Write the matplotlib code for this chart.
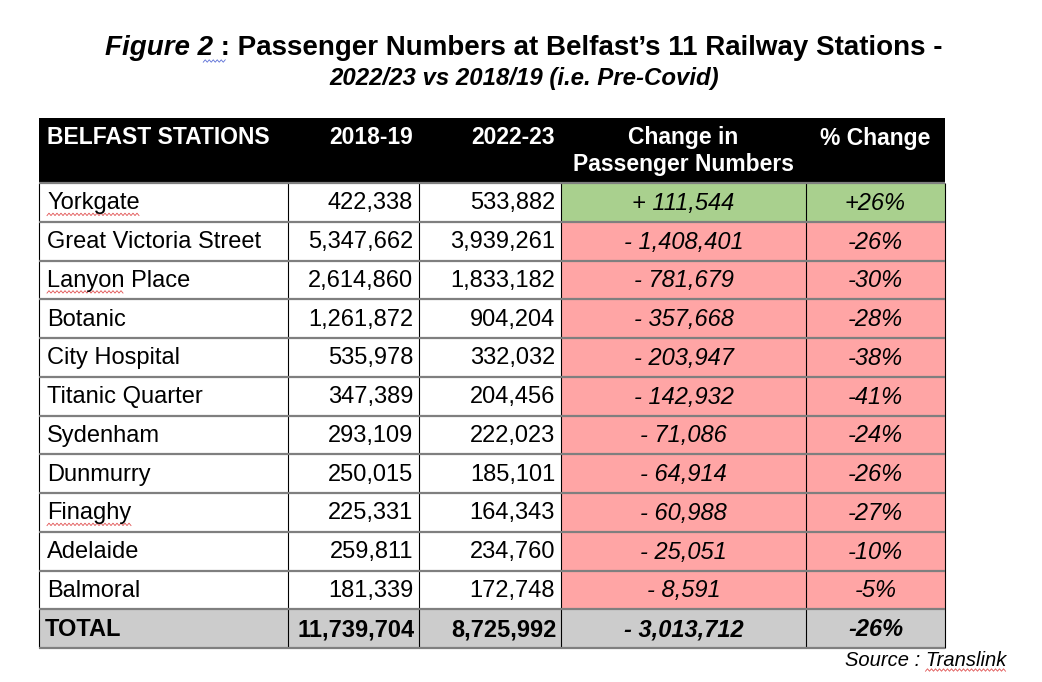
import matplotlib
matplotlib.use("Agg")
import matplotlib.pyplot as plt
import numpy as np
from matplotlib.patches import Rectangle

stations = ["Yorkgate", "Great Victoria Street", "Lanyon Place", "Botanic",
            "City Hospital", "Titanic Quarter", "Sydenham", "Dunmurry",
            "Finaghy", "Adelaide", "Balmoral"]
pax_1819 = [422338, 5347662, 2614860, 1261872, 535978, 347389,
            293109, 250015, 225331, 259811, 181339]
pax_2223 = [533882, 3939261, 1833182, 904204, 332032, 204456,
            222023, 185101, 164343, 234760, 172748]
change = [111544, -1408401, -781679, -357668, -203947, -142932,
          -71086, -64914, -60988, -25051, -8591]
pct_change = [26, -26, -30, -28, -38, -41, -24, -26, -27, -10, -5]
total_row = ["TOTAL", 11739704, 8725992, -3013712, -26]
headers = ["BELFAST STATIONS", "2018-19", "2022-23",
           "Change in\nPassenger Numbers", "% Change"]
# words flagged by the spell checker in the source screenshot
flagged = ["Yorkgate", "Lanyon", "Finaghy"]

FONT = ["Liberation Sans", "DejaVu Sans"]

# layout (pixels)
col_edges = [39, 288, 419, 561, 806, 945]
head_top, head_bot = 118, 183
row_h = 38.75
GREEN, RED, GREY = "#a9d08e", "#ffa5a5", "#cccccc"


def fmt_change(v):
    sign = "+" if v > 0 else "-"
    return f"{sign} {abs(v):,}"


def fmt_pct(v):
    return f"{'+' if v > 0 else '-'}{abs(v)}%"


def squiggle(ax, x0, x1, y, color):
    """wavy spell-check underline"""
    xs = np.arange(x0, x1 + 0.1, 2.0)
    ys = y + np.where(np.arange(len(xs)) % 2 == 0, 1.2, -1.2)
    ax.plot(xs, ys, color=color, lw=0.6)


fig = plt.figure(figsize=(10.42, 6.82), dpi=100)
ax = fig.add_axes([0, 0, 1, 1])
ax.set_xlim(0, 1042)
ax.set_ylim(682, 0)
ax.axis("off")
renderer = fig.canvas.get_renderer()
px = ax.transData.inverted()

# ===== title
t1 = ax.text(0, 48, "Figure 2", fontsize=20, fontweight="bold",
             fontstyle="italic", family=FONT, va="center", ha="left")
t2 = ax.text(0, 48, " : Passenger Numbers at Belfast\u2019s 11 Railway Stations -",
             fontsize=20, fontweight="bold", family=FONT, va="center", ha="left")
w1 = t1.get_window_extent(renderer).width
w2 = t2.get_window_extent(renderer).width
x0 = 524 - (w1 + w2) / 2
t1.set_x(x0)
t2.set_x(x0 + w1)
squiggle(ax, x0 + w1 - 10, x0 + w1 + 12, 61, "#5b6fd6")
ax.text(524, 78, "2022/23 vs 2018/19 (i.e. Pre-Covid)", fontsize=17.3,
        fontweight="bold", fontstyle="italic", family=FONT,
        ha="center", va="center")

# ===== header
left, right = col_edges[0], col_edges[-1]
ax.add_patch(Rectangle((left, head_top), right - left, head_bot - head_top,
                       facecolor="black", edgecolor="none"))
hy = 138
hkw = dict(color="white", fontsize=16.5, fontweight="bold", family=FONT)
ax.text(47, hy, headers[0], va="center", ha="left", **hkw)
ax.text(col_edges[2] - 6, hy, headers[1], va="center", ha="right", **hkw)
ax.text(col_edges[3] - 6, hy, headers[2], va="center", ha="right", **hkw)
ax.text((col_edges[3] + col_edges[4]) / 2, 151, headers[3], va="center",
        ha="center", linespacing=1.2, **hkw)
ax.text((col_edges[4] + col_edges[5]) / 2, hy, headers[4], va="center",
        ha="center", **hkw)

# ===== body rows
n = len(stations)
for i in range(n + 1):
    y_top = head_bot + i * row_h
    yc = y_top + row_h / 2 + 1
    if i < n:
        fill = GREEN if change[i] > 0 else RED
        ax.add_patch(Rectangle((col_edges[3], y_top), col_edges[5] - col_edges[3],
                               row_h, facecolor=fill, edgecolor="none"))
        cells = [stations[i], f"{pax_1819[i]:,}", f"{pax_2223[i]:,}",
                 fmt_change(change[i]), fmt_pct(pct_change[i])]
        kw = dict(fontsize=17, family=FONT, va="center", color="black")
        ax.text(col_edges[0] + 8, yc, cells[0], ha="left", **kw)
        word = stations[i].split()[0]
        if word in flagged:
            wt = ax.text(col_edges[0] + 8, yc, word, ha="left", alpha=0, **kw)
            bb = wt.get_window_extent(renderer).transformed(px)
            squiggle(ax, bb.x0, bb.x1, yc + 11, "#e05050")
        ax.text(col_edges[2] - 6, yc, cells[1], ha="right", **kw)
        ax.text(col_edges[3] - 6, yc, cells[2], ha="right", **kw)
        ax.text((col_edges[3] + col_edges[4]) / 2, yc, cells[3], ha="center",
                fontstyle="italic", **kw)
        ax.text((col_edges[4] + col_edges[5]) / 2, yc, cells[4], ha="center",
                fontstyle="italic", **kw)
    else:
        ax.add_patch(Rectangle((left, y_top), right - left, row_h,
                               facecolor=GREY, edgecolor="none"))
        kw = dict(fontsize=17, family=FONT, va="center", color="black",
                  fontweight="bold")
        ax.text(col_edges[0] + 6, yc, total_row[0], ha="left", **kw)
        ax.text(col_edges[2] - 4, yc, f"{total_row[1]:,}", ha="right", **kw)
        ax.text(col_edges[3] - 4, yc, f"{total_row[2]:,}", ha="right", **kw)
        ax.text((col_edges[3] + col_edges[4]) / 2, yc, fmt_change(total_row[3]),
                ha="center", fontstyle="italic", **kw)
        ax.text((col_edges[4] + col_edges[5]) / 2, yc, fmt_pct(total_row[4]),
                ha="center", fontstyle="italic", **kw)

# ===== grid lines
bottom = head_bot + (n + 1) * row_h
for x in col_edges:
    ax.plot([x, x], [head_bot, bottom], color="black", lw=0.8,
            solid_capstyle="butt")
for i in range(n + 2):
    y = head_bot + i * row_h
    ax.plot([left, right], [y, y], color="#7f7f7f", lw=1.6,
            solid_capstyle="butt")

# ===== source
src = ax.text(1006, 660, "Source : Translink", fontsize=14.5, fontstyle="italic",
              family=FONT, ha="right", va="center")
sw = ax.text(1006, 660, "Translink", fontsize=14.5, fontstyle="italic",
             family=FONT, ha="right", va="center", alpha=0)
bb = sw.get_window_extent(renderer).transformed(px)
squiggle(ax, bb.x0, bb.x1, 670, "#e05050")

fig.savefig("out.png", dpi=100)
